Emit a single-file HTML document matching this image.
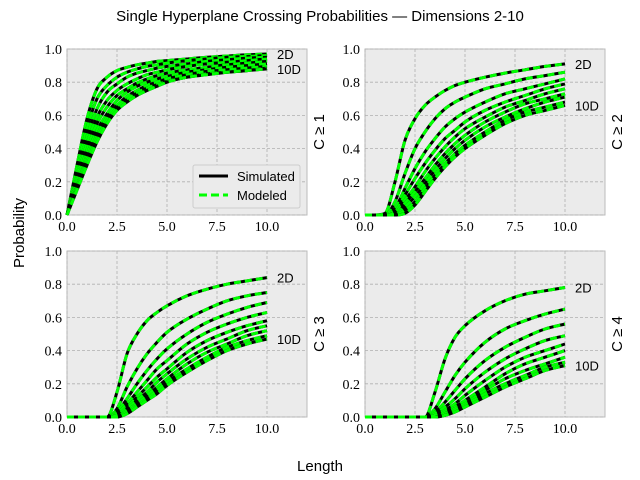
<!DOCTYPE html>
<html><head><meta charset="utf-8"><style>
body{margin:0;background:#fff;}
svg{display:block;font-family:"Liberation Serif",serif;}
.s{font-family:"Liberation Sans",sans-serif;}
</style></head><body>
<svg id="c" width="640" height="480"></svg>
<script>
const xs=[0,0.5,1,1.5,2,2.5,3,3.5,4,4.5,5,6,7,8,9,10];
const xTicks=[0,2.5,5,7.5,10];
const xTickLabels=["0.0","2.5","5.0","7.5","10.0"];
const yTicks=[0,0.2,0.4,0.6,0.8,1.0];
const yTickLabels=["0.0","0.2","0.4","0.6","0.8","1.0"];
const dims=["2D","3D","4D","5D","6D","7D","8D","9D","10D"];
const panelLabels=["C ≥ 1","C ≥ 2","C ≥ 3","C ≥ 4"];
const p1=[
[0,.30,.58,.76,.83,.87,.89,.905,.915,.925,.93,.94,.95,.958,.965,.97],
[0,.27,.52,.70,.78,.83,.86,.88,.895,.905,.915,.93,.94,.95,.955,.96],
[0,.24,.47,.64,.74,.79,.83,.855,.87,.885,.895,.91,.925,.935,.945,.95],
[0,.22,.43,.59,.69,.75,.79,.82,.845,.86,.875,.895,.91,.92,.93,.94],
[0,.20,.39,.55,.65,.72,.76,.795,.82,.84,.855,.875,.89,.905,.915,.925],
[0,.18,.36,.51,.61,.69,.74,.775,.80,.82,.835,.86,.875,.89,.90,.91],
[0,.17,.34,.48,.59,.66,.715,.75,.78,.80,.82,.845,.865,.875,.885,.895],
[0,.16,.32,.46,.57,.645,.695,.735,.765,.785,.805,.83,.85,.86,.87,.885],
[0,.15,.30,.44,.55,.63,.68,.72,.75,.775,.80,.83,.845,.86,.87,.88]];
const p2=[
[0,0,.01,.2,.45,.58,.66,.71,.75,.78,.80,.83,.855,.875,.895,.91],
[0,0,0,.08,.25,.40,.50,.58,.64,.68,.71,.76,.79,.82,.84,.86],
[0,0,0,.04,.16,.28,.38,.46,.53,.58,.62,.68,.73,.76,.79,.82],
[0,0,0,.02,.12,.22,.31,.39,.46,.51,.56,.63,.68,.72,.76,.79],
[0,0,0,.01,.09,.17,.26,.34,.41,.47,.52,.59,.65,.69,.73,.76],
[0,0,0,0,.07,.14,.22,.30,.37,.43,.48,.56,.62,.67,.70,.73],
[0,0,0,0,.05,.11,.19,.27,.34,.40,.45,.53,.59,.64,.68,.71],
[0,0,0,0,.03,.08,.16,.24,.31,.37,.42,.50,.57,.62,.65,.68],
[0,0,0,0,.01,.06,.14,.22,.29,.35,.40,.48,.55,.60,.63,.66]];
const p3=[
[0,0,0,0,0,.15,.38,.50,.58,.63,.67,.73,.77,.80,.82,.84],
[0,0,0,0,0,.05,.18,.29,.38,.45,.51,.59,.65,.70,.73,.75],
[0,0,0,0,0,.03,.11,.20,.28,.35,.41,.50,.57,.62,.66,.69],
[0,0,0,0,0,.02,.08,.15,.22,.29,.34,.44,.51,.56,.60,.63],
[0,0,0,0,0,.01,.06,.12,.18,.24,.29,.39,.46,.51,.55,.58],
[0,0,0,0,0,0,.05,.10,.15,.21,.26,.35,.42,.47,.52,.55],
[0,0,0,0,0,0,.04,.08,.13,.18,.23,.32,.39,.44,.49,.52],
[0,0,0,0,0,0,.03,.07,.11,.16,.21,.29,.36,.42,.46,.49],
[0,0,0,0,0,0,.02,.06,.10,.14,.19,.27,.34,.40,.44,.47]];
const p4=[
[0,0,0,0,0,0,0,.15,.35,.48,.55,.64,.70,.74,.76,.78],
[0,0,0,0,0,0,0,.05,.15,.25,.33,.45,.53,.58,.62,.65],
[0,0,0,0,0,0,0,.03,.09,.16,.23,.34,.42,.48,.53,.56],
[0,0,0,0,0,0,0,.02,.06,.11,.17,.27,.35,.41,.46,.49],
[0,0,0,0,0,0,0,.01,.04,.08,.13,.22,.30,.36,.40,.44],
[0,0,0,0,0,0,0,0,.03,.06,.10,.18,.26,.32,.36,.40],
[0,0,0,0,0,0,0,0,.02,.05,.08,.16,.23,.28,.32,.36],
[0,0,0,0,0,0,0,0,.01,.04,.07,.14,.20,.25,.30,.33],
[0,0,0,0,0,0,0,0,.01,.03,.06,.12,.18,.23,.28,.31]];
const panels=[p1,p2,p3,p4];
const NS="http://www.w3.org/2000/svg";
const svg=document.getElementById('c');
function mk(t,a,p){const e=document.createElementNS(NS,t);for(const k in a)e.setAttribute(k,a[k]);(p||svg).appendChild(e);return e;}
function txt(s,a,p){const e=mk('text',a,p);e.textContent=s;return e;}
function monoPath(px,py){
  const n=px.length,d=[],m=[];
  for(let i=0;i<n-1;i++)d.push((py[i+1]-py[i])/(px[i+1]-px[i]));
  m[0]=d[0];m[n-1]=d[n-2];
  for(let i=1;i<n-1;i++){m[i]=(d[i-1]*d[i]<=0)?0:(d[i-1]+d[i])/2;}
  for(let i=0;i<n-1;i++){if(d[i]===0){m[i]=0;m[i+1]=0;continue;}
    const a=m[i]/d[i],b=m[i+1]/d[i],s=a*a+b*b;if(s>9){const t=3/Math.sqrt(s);m[i]=t*a*d[i];m[i+1]=t*b*d[i];}}
  let p='M'+px[0].toFixed(1)+','+py[0].toFixed(1);
  for(let i=0;i<n-1;i++){const h=(px[i+1]-px[i])/3;
    p+='C'+(px[i]+h).toFixed(1)+','+(py[i]+m[i]*h).toFixed(1)+' '+(px[i+1]-h).toFixed(1)+','+(py[i+1]-m[i+1]*h).toFixed(1)+' '+px[i+1].toFixed(1)+','+py[i+1].toFixed(1);}
  return p;
}
const boxes=[[67,49],[365,49],[67,251],[365,251]];
const W=240,H=166;
panels.forEach((data,pi)=>{
  const [L,T]=boxes[pi];
  const g=mk('g',{});
  
  
  const X=v=>L+v/12*W, Y=v=>T+H-v*H;
  mk('rect',{x:L,y:T,width:W,height:H,fill:'#ebebeb',stroke:'#bbb','stroke-width':1},g);
  xTicks.forEach((t,i)=>{
    mk('line',{x1:X(t),x2:X(t),y1:T,y2:T+H,stroke:'#b0b0b0','stroke-dasharray':'3,2','stroke-width':0.8},g);
    const e=txt(xTickLabels[i],{x:X(t),y:T+H+16,'text-anchor':'middle','font-size':14},g);
    
    
  });
  yTicks.forEach((t,i)=>{
    mk('line',{x1:L,x2:L+W,y1:Y(t),y2:Y(t),stroke:'#b0b0b0','stroke-dasharray':'3,2','stroke-width':0.8},g);
    const e=txt(yTickLabels[i],{x:L-5,y:Y(t)+5,'text-anchor':'end','font-size':14},g);
    
    
  });
  data.forEach((ys,di)=>{
    const d=monoPath(xs.map(X),ys.map(Y));
    const s=mk('path',{d:d,fill:'none',stroke:'#000','stroke-width':3,'stroke-linejoin':'round'},g);
    
    
    const m=mk('path',{d:d,fill:'none',stroke:'#00ff00','stroke-width':3,'stroke-dasharray':'7,4'},g);
    
    
  });
  const first=data[0][data[0].length-1], last=data[8][data[8].length-1];
  let y2=Y(first)+5, y10=Y(last)+5;
  if(y10-y2<12) y10=y2+12;
  const a=txt('2D',{x:L+W-30,y:y2,'font-size':13,class:'s'},g);
  
  
  const b=txt('10D',{x:L+W-30,y:y10,'font-size':13,class:'s'},g);
  
  
  const pl=txt(panelLabels[pi],{transform:`translate(${L+W+17},${T+H/2}) rotate(-90)`,'text-anchor':'middle','font-size':15,class:'s'},g);
  
  
});
</script>
<svg style="position:absolute;left:0;top:0" width="640" height="480" class="s">
<text x="320" y="21" text-anchor="middle" font-size="15" font-family="Liberation Sans,sans-serif">Single Hyperplane Crossing Probabilities — Dimensions 2-10</text>
<text x="320" y="471" text-anchor="middle" font-size="15" font-family="Liberation Sans,sans-serif">Length</text>
<text transform="translate(24,233) rotate(-90)" text-anchor="middle" font-size="15" font-family="Liberation Sans,sans-serif">Probability</text>
<g>
<rect x="193" y="165" width="107" height="43" fill="#ebebeb" stroke="#ccc" rx="2"/>
<line x1="199" y1="176" x2="228" y2="176" stroke="#000" stroke-width="3"/>
<text x="237" y="181" font-size="13" font-family="Liberation Sans,sans-serif">Simulated</text>
<line x1="199" y1="195" x2="228" y2="195" stroke="#00ff00" stroke-width="3" stroke-dasharray="8,4"/>
<text x="237" y="200" font-size="13" font-family="Liberation Sans,sans-serif">Modeled</text>
</g>
</svg>
</body></html>
